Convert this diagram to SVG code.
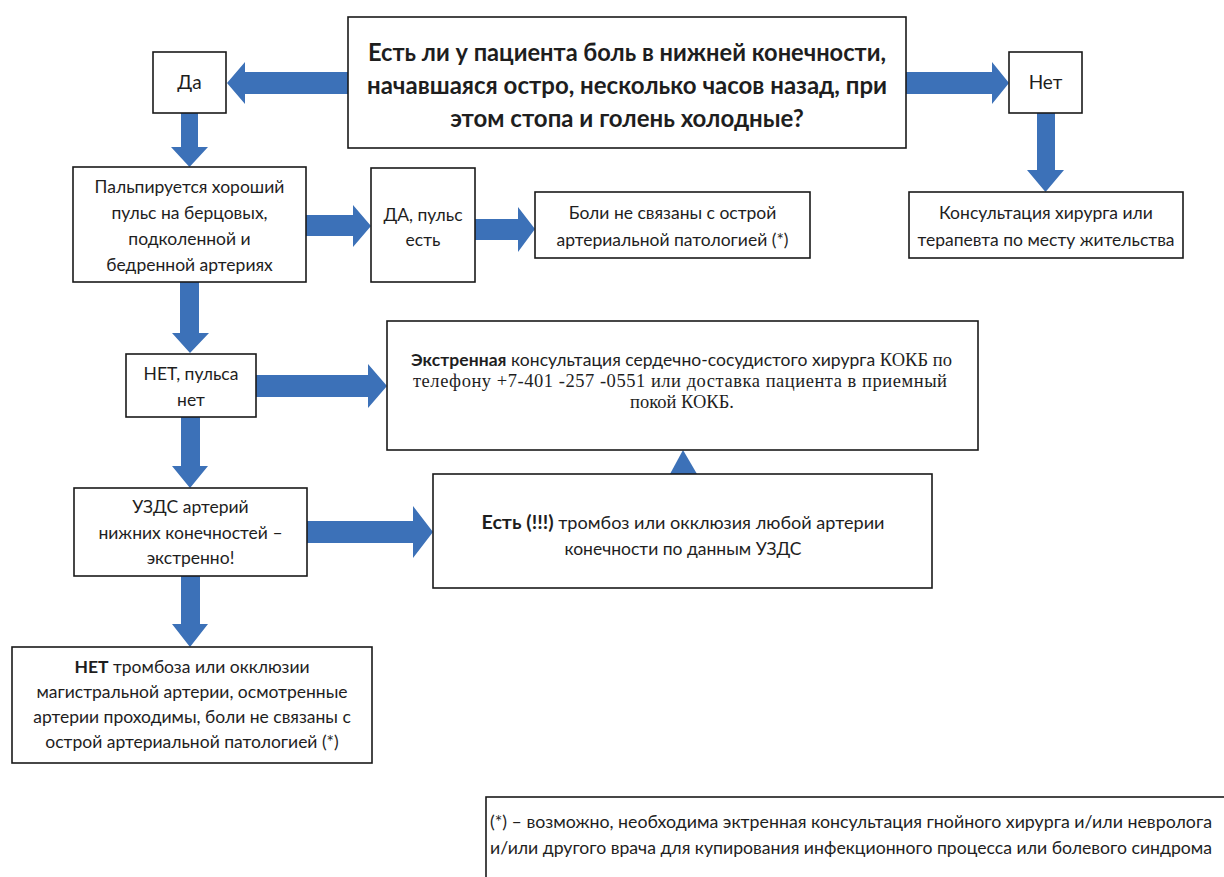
<svg xmlns="http://www.w3.org/2000/svg" width="1224" height="877" viewBox="0 0 1224 877">
<style>
.box{fill:#fff;stroke:#1a1a1a;stroke-width:1.6}
.t{font-family:Lato,"Open Sans","Noto Sans",sans-serif;font-size:17.5px;fill:#1e1e1e;text-anchor:middle}
.b{font-weight:bold}
.s{font-family:"Liberation Serif","DejaVu Serif",serif;font-size:18.5px}
.title{font-family:Lato,"Open Sans","Noto Sans",sans-serif;font-size:24px;font-weight:bold;fill:#1e1e1e;text-anchor:middle}
.arr{fill:#3c71b8}
</style>
<rect width="1224" height="877" fill="#fff"/>
<g id="connectors">
<polygon class="arr" points="348,72 245,72 245,62 227,83 245,104 245,94 348,94"/>
<polygon class="arr" points="906,72 992,72 992,62 1009,83 992,104 992,94 906,94"/>
<polygon class="arr" points="181,113 198,113 198,147 208,147 189.5,167 171,147 181,147"/>
<polygon class="arr" points="1037,113 1055,113 1055,170 1064,170 1045.5,192 1027,170 1037,170"/>
<polygon class="arr" points="306,215 353,215 353,205 371,226 353,247 353,236 306,236"/>
<polygon class="arr" points="475,219 518,219 518,207 535,229 518,252 518,240 475,240"/>
<polygon class="arr" points="180,282 199,282 199,333 209,333 190,353 172,333 180,333"/>
<polygon class="arr" points="256,375 368,375 368,364 387,386 368,408 368,397 256,397"/>
<polygon class="arr" points="181,417 200,417 200,466 208,466 190,488 172,466 181,466"/>
<polygon class="arr" points="307,521 413,521 413,506 433,532 413,558 413,543 307,543"/>
<polygon class="arr" points="670,474 683,450 697,474"/>
<polygon class="arr" points="181,576 200,576 200,624 208,624 190,647 172,624 181,624"/>
</g>
<g id="question">
<rect class="box" x="348" y="17" width="558" height="131"/>
<text class="title" x="627" y="61" textLength="518" lengthAdjust="spacingAndGlyphs">Есть ли у пациента боль в нижней конечности,</text>
<text class="title" x="627" y="94" textLength="520" lengthAdjust="spacingAndGlyphs">начавшаяся остро, несколько часов назад, при</text>
<text class="title" x="627" y="127">этом стопа и голень холодные?</text>
</g>
<g id="yes">
<rect class="box" x="153" y="52" width="73" height="61"/>
<text class="t" x="189.5" y="89" style="font-size:19px">Да</text>
</g>
<g id="no">
<rect class="box" x="1009" y="52" width="73" height="61"/>
<text class="t" x="1045.5" y="89" style="font-size:19px">Нет</text>
</g>
<g id="palpation">
<rect class="box" x="73" y="167" width="233" height="115"/>
<text class="t" x="189.5" y="193">Пальпируется хороший</text>
<text class="t" x="189.5" y="219">пульс на берцовых,</text>
<text class="t" x="189.5" y="245">подколенной и</text>
<text class="t" x="189.5" y="271">бедренной артериях</text>
</g>
<g id="pulse-yes">
<rect class="box" x="371" y="168" width="104" height="114"/>
<text class="t" x="423" y="221">ДА, пульс</text>
<text class="t" x="423" y="246">есть</text>
</g>
<g id="not-related">
<rect class="box" x="535" y="192" width="275" height="66"/>
<text class="t" x="672.5" y="219">Боли не связаны с острой</text>
<text class="t" x="672.5" y="246">артериальной патологией (*)</text>
</g>
<g id="consult-local">
<rect class="box" x="909" y="192" width="274" height="66"/>
<text class="t" x="1046" y="219">Консультация хирурга или</text>
<text class="t" x="1046" y="246">терапевта по месту жительства</text>
</g>
<g id="pulse-no">
<rect class="box" x="126" y="354" width="130" height="63"/>
<text class="t" x="191" y="380">НЕТ, пульса</text>
<text class="t" x="191" y="406">нет</text>
</g>
<g id="emergency">
<rect class="box" x="387" y="321" width="591" height="129"/>
<text class="t" x="411" y="366" style="text-anchor:start" textLength="541" lengthAdjust="spacing"><tspan class="b">Экстренная</tspan> консультация сердечно-сосудистого хирурга <tspan class="s">КОКБ по</tspan></text>
<text class="t s" x="413" y="387" style="text-anchor:start" textLength="534" lengthAdjust="spacing">телефону +7-401 -257 -0551 или доставка пациента в приемный</text>
<text class="t s" x="682" y="408">покой КОКБ.</text>
</g>
<g id="uzds">
<rect class="box" x="74" y="488" width="233" height="88"/>
<text class="t" x="190.5" y="513">УЗДС артерий</text>
<text class="t" x="190.5" y="539">нижних конечностей –</text>
<text class="t" x="190.5" y="564">экстренно!</text>
</g>
<g id="thrombosis-yes">
<rect class="box" x="433" y="474" width="499" height="114"/>
<text class="t" x="683" y="529" textLength="403" lengthAdjust="spacingAndGlyphs"><tspan class="b" style="font-size:19px">Есть (!!!)</tspan> тромбоз или окклюзия любой артерии</text>
<text class="t" x="683" y="555">конечности по данным УЗДС</text>
</g>
<g id="thrombosis-no">
<rect class="box" x="12" y="647" width="360" height="116"/>
<text class="t" x="192" y="673"><tspan class="b">НЕТ</tspan> тромбоза или окклюзии</text>
<text class="t" x="192" y="698">магистральной артерии, осмотренные</text>
<text class="t" x="192" y="723">артерии проходимы, боли не связаны с</text>
<text class="t" x="192" y="748">острой артериальной патологией (*)</text>
</g>
<g id="footnote">
<rect class="box" x="486" y="797" width="745" height="90"/>
<text class="t" x="490" y="828" style="text-anchor:start;font-size:17.5px" textLength="722" lengthAdjust="spacingAndGlyphs">(*) – возможно, необходима эктренная консультация гнойного хирурга и/или невролога</text>
<text class="t" x="490" y="854" style="text-anchor:start;font-size:17.5px" textLength="722" lengthAdjust="spacingAndGlyphs">и/или другого врача для купирования инфекционного процесса или болевого синдрома</text>
</g>
</svg>
